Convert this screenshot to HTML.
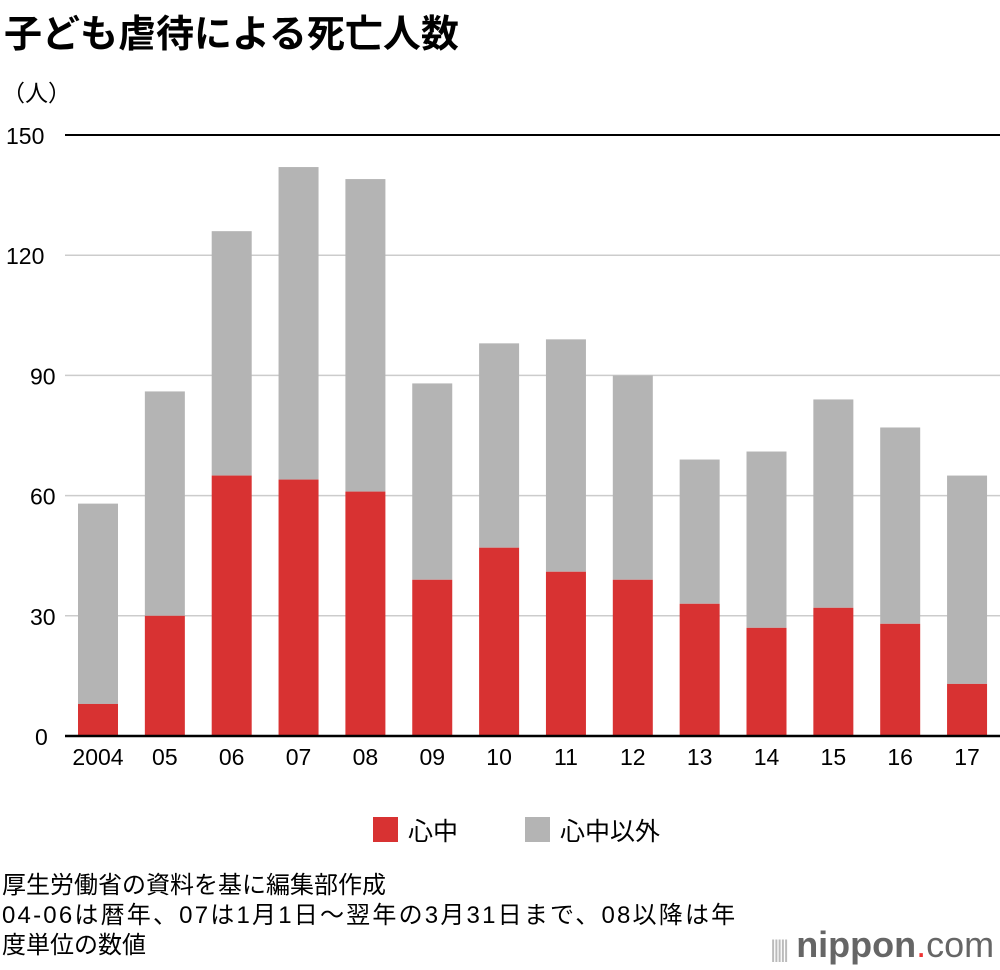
<!DOCTYPE html>
<html><head><meta charset="utf-8"><style>
body{margin:0;width:1000px;height:970px;background:#fff;font-family:"Liberation Sans","Noto Sans CJK JP",sans-serif;overflow:hidden;position:relative;color:#000}
.t{position:absolute;white-space:nowrap}
</style></head><body>
<svg id="chart" width="1000" height="970" style="position:absolute;left:0;top:0"></svg>
<div class="t" style="left:4px;top:3px;font-size:38px;font-weight:bold">子ども虐待による死亡人数</div>
<div class="t" style="left:2px;top:74px;font-size:23px">（人）</div>
<div class="t" style="left:2px;top:871px;font-size:24px;line-height:30px"><span>厚生労働省の資料を基に編集部作成</span><br><span style="letter-spacing:2.2px">04-06は暦年、07は1月1日～翌年の3月31日まで、08以降は年</span><br><span>度単位の数値</span></div>
<div class="t" style="left:770px;top:924px;font-size:36px;color:#666"><span style="color:#bbb;font-size:24px;letter-spacing:-3px">|||||</span> <b>nippon</b><span style="color:#e33">.</span>com</div>
<script>
const categories=["2004","05","06","07","08","09","10","11","12","13","14","15","16","17"];
const shinju=[8,30,65,64,61,39,47,41,39,33,27,32,28,13];
const totals=[58,86,126,142,139,88,98,99,90,69,71,84,77,65];
const yTicks=[0,30,60,90,120,150];
const svg=document.getElementById('chart');
const NS='http://www.w3.org/2000/svg';
const y0=736,y1=135,vmax=150;
function y(v){return y0-(y0-y1)*v/vmax;}
function x(i){return 98+i*66.85;}
function mk(tag,attrs){const e=document.createElementNS(NS,tag);for(const k in attrs)e.setAttribute(k,attrs[k]);svg.appendChild(e);return e;}
yTicks.forEach(t=>{
  const l=mk('line',{x1:65,x2:1000,y1:y(t),y2:y(t),stroke:t===150||t===0?'#000':'#ccc','stroke-width':t===150||t===0?2:1.5});
  
  
  const tx=mk('text',{x:t===0?35:(t<100?30:6),y:y(t)+9,'font-size':23,'font-family':'Liberation Sans, sans-serif'});
  tx.textContent=t;
  
  
});
categories.forEach((c,i)=>{
  const g=mk('rect',{x:x(i)-20,y:y(totals[i]),width:40,height:y(shinju[i])-y(totals[i]),fill:'#b4b4b4'});
  
  
  const r=mk('rect',{x:x(i)-20,y:y(shinju[i]),width:40,height:y0-y(shinju[i]),fill:'#d83232'});
  
  
  const tx=mk('text',{x:x(i),y:765,'font-size':23,'text-anchor':'middle','font-family':'Liberation Sans, sans-serif'});
  tx.textContent=c;
  
  
});
mk('line',{x1:65,x2:1000,y1:y0,y2:y0,stroke:'#000','stroke-width':2.5});
const l1=mk('rect',{x:373,y:817,width:25,height:25,fill:'#d83232'});


const t1=mk('text',{x:408,y:840,'font-size':25,'font-family':'Liberation Sans, Noto Sans CJK JP, sans-serif'});t1.textContent='心中';


const l2=mk('rect',{x:525,y:817,width:25,height:25,fill:'#b4b4b4'});


const t2=mk('text',{x:560,y:840,'font-size':25,'font-family':'Liberation Sans, Noto Sans CJK JP, sans-serif'});t2.textContent='心中以外';


</script>
</body></html>
